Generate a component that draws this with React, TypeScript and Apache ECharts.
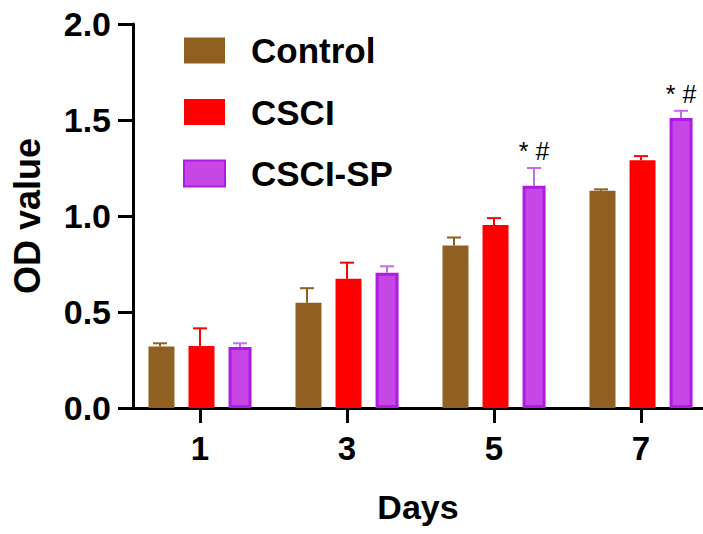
import React, { useEffect, useRef } from 'react';
import * as echarts from 'echarts';

const days = [1, 3, 5, 7];
const seriesNames = ['Control', 'CSCI', 'CSCI-SP'];
const controlMean = [0.32, 0.548, 0.846, 1.131];
const controlSD = [0.017, 0.076, 0.042, 0.008];
const csciMean = [0.323, 0.673, 0.953, 1.29];
const csciSD = [0.092, 0.084, 0.036, 0.022];
const spMean = [0.318, 0.705, 1.157, 1.51];
const spSD = [0.019, 0.033, 0.093, 0.038];
const sigLabels = ['', '', '* #', '* #'];

export default function App() {
  const ref = useRef<HTMLDivElement>(null);
  useEffect(() => {
    document.body.style.margin = '0';
    const chart = echarts.init(ref.current!, null, { renderer: 'svg' });
    const font = "'Liberation Sans', Arial, sans-serif";
    const colors = ['#8F6020', '#FF0000', '#C646E6'];
    const errColors = ['#8F6020', '#FF0000', '#C66AEC'];
    const means = [controlMean, csciMean, spMean];
    const sds = [controlSD, csciSD, spSD];
    const offsets = [-40, 0, 40];

    const barSeries = seriesNames.map((name, k) => ({
      type: 'bar',
      name,
      barWidth: k === 2 ? 23 : 26,
      barGap: '54%',
      data: days.map((d, i) => [d, means[k][i]]),
      itemStyle:
        k === 2
          ? { color: colors[k], borderColor: '#AE1CE4', borderWidth: 3 }
          : { color: colors[k] },
      z: 2,
    }));

    const errSeries = seriesNames.map((name, k) => ({
      type: 'custom',
      name: name + ' SD',
      data: days.map((d, i) => [d, means[k][i], means[k][i] + sds[k][i]]),
      z: 3,
      renderItem: (params: any, api: any) => {
        const base = api.coord([api.value(0), api.value(1)]);
        const top = api.coord([api.value(0), api.value(2)]);
        const x = base[0] + offsets[k];
        const st = { stroke: errColors[k], lineWidth: 2 };
        const children: any[] = [
          { type: 'line', shape: { x1: x, y1: base[1], x2: x, y2: top[1] }, style: st },
          { type: 'line', shape: { x1: x - 7, y1: top[1], x2: x + 7, y2: top[1] }, style: st },
        ];
        if (k === 2 && sigLabels[params.dataIndex]) {
          children.push({
            type: 'text',
            x,
            y: top[1] - 17,
            style: {
              text: sigLabels[params.dataIndex],
              fontSize: 25,
              fontFamily: font,
              fill: '#000',
              align: 'center',
              verticalAlign: 'middle',
            },
          });
        }
        return { type: 'group', children };
      },
    }));

    chart.setOption({
      animation: false,
      backgroundColor: '#fff',
      grid: { left: 133, right: 0, top: 24, bottom: 126 },
      legend: {
        data: seriesNames,
        orient: 'vertical',
        icon: 'rect',
        left: 183,
        top: 33,
        padding: 0,
        itemWidth: 41,
        itemHeight: 26,
        itemGap: 26.5,
        formatter: (n: string) => '{a|' + n + '}',
        textStyle: {
          rich: {
            a: {
              fontSize: 35,
              fontWeight: 'bold',
              fontFamily: font,
              color: '#000',
              padding: [0, 0, 0, 21],
              lineHeight: 26,
            },
          },
        },
      },
      xAxis: {
        type: 'value',
        min: 0.0884,
        max: 7.843,
        splitLine: { show: false },
        axisLine: { show: true, lineStyle: { color: '#000', width: 3 } },
        axisTick: { show: true, customValues: days, length: 15, lineStyle: { color: '#000', width: 3 } },
        axisLabel: {
          customValues: days,
          fontSize: 33,
          fontWeight: 'bold',
          fontFamily: font,
          color: '#000',
          margin: 24,
        },
        name: 'Days',
        nameLocation: 'middle',
        nameGap: 82,
        nameTextStyle: { fontSize: 34, fontWeight: 'bold', fontFamily: font, color: '#000' },
      },
      yAxis: {
        type: 'value',
        min: 0,
        max: 2,
        interval: 0.5,
        splitLine: { show: false },
        axisLine: { show: true, lineStyle: { color: '#000', width: 3 } },
        axisTick: { show: true, length: 15, lineStyle: { color: '#000', width: 3 } },
        axisLabel: {
          fontSize: 34,
          fontWeight: 'bold',
          fontFamily: font,
          color: '#000',
          margin: 22,
          formatter: (v: number) => v.toFixed(1),
        },
        name: 'OD value',
        nameLocation: 'middle',
        nameGap: 88,
        nameTextStyle: { fontSize: 36, fontWeight: 'bold', fontFamily: font, color: '#000' },
      },
      series: [...barSeries, ...errSeries],
    });
    return () => chart.dispose();
  }, []);
  return <div ref={ref} style={{ width: 703, height: 534 }} />;
}
